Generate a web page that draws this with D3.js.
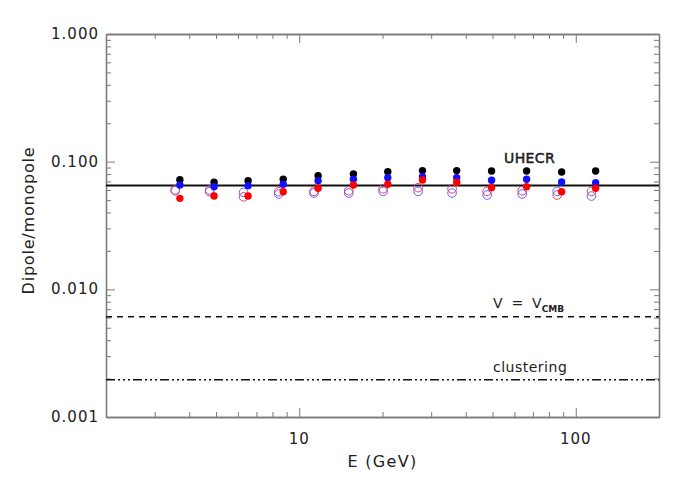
<!DOCTYPE html>
<html><head><meta charset="utf-8">
<script src="https://cdn.jsdelivr.net/npm/d3@7"></script>
<style>body{margin:0;background:#fff}text{font-family:"DejaVu Sans",sans-serif;fill:#222}</style>
</head><body><svg id="c" width="692" height="485"></svg>
<script>
// Data
const energyFilled = [3.70, 4.92, 6.53, 8.75, 11.7, 15.7, 20.9, 27.9, 37.1, 49.6, 66.4, 88.9, 118];
const energyOpen   = [3.56, 4.74, 6.29, 8.43, 11.3, 15.1, 20.1, 26.9, 35.7, 47.8, 64.0, 85.7, 114];
const blackFilled  = [0.0723, 0.0690, 0.0710, 0.0728, 0.0777, 0.0801, 0.0835, 0.0851, 0.0851, 0.0846, 0.0846, 0.0831, 0.0846];
const blueFilled   = [0.0657, 0.0637, 0.0649, 0.0665, 0.0710, 0.0728, 0.0749, 0.0763, 0.0749, 0.0715, 0.0728, 0.0694, 0.0685];
const redFilled    = [0.0516, 0.0538, 0.0538, 0.0582, 0.0619, 0.0657, 0.0665, 0.0719, 0.0690, 0.0626, 0.0637, 0.0582, 0.0619];
const redOpen      = [0.0592, 0.0582, 0.0530, 0.0582, 0.0585, 0.0592, 0.0613, 0.0626, 0.0613, 0.0585, 0.0592, 0.0548, 0.0585];
const blueOpen     = [0.0600, 0.0600, 0.0575, 0.0558, 0.0568, 0.0568, 0.0585, 0.0585, 0.0568, 0.0548, 0.0558, 0.0585, 0.0538];
const refLevels = [
  {name: "UHECR", value: 0.065, dash: null},
  {name: "V = V_CMB", value: 0.0061, dash: "6,5"},
  {name: "clustering", value: 0.00196, dash: "9,3,2,3,2,3,2,3"}
];
const yTicks = [0.001, 0.01, 0.1, 1];
const yTickLabels = ["0.001", "0.010", "0.100", "1.000"];
const xTicks = [10, 100];
const xTickLabels = ["10", "100"];

const svg = d3.select("#c");
const L = 106, R = 659, T = 34, B = 417;
const x = d3.scaleLog().domain([2, 200]).range([L, R]);
const y = d3.scaleLog().domain([0.001, 1]).range([B, T]);
const axisCol = "#7a7a7a";

// minor ticks
const xMinor = [], yMinor = [];
for (let d = 1; d <= 100; d *= 10) for (let k = 2; k <= 9; k++) { const v = k * d; if (v >= 2 && v <= 200 && !xTicks.includes(v)) xMinor.push(v); }
for (let d = 0.001; d < 1; d *= 10) for (let k = 2; k <= 9; k++) yMinor.push(k * d);

const g = svg.append("g");
function tickAxis(axisFn, scale, major, minor, transform) {
  const a = axisFn(scale).tickValues(major).tickSizeOuter(0).tickSizeInner(9).tickFormat("");
  const ga = g.append("g").attr("transform", transform).call(a);
  const am = axisFn(scale).tickValues(minor).tickSizeOuter(0).tickSizeInner(5).tickFormat("");
  const gm = g.append("g").attr("transform", transform).call(am);
  [ga, gm].forEach(s => { s.select(".domain").attr("stroke", axisCol).attr("stroke-width", 1.3); s.selectAll(".tick line").attr("stroke", axisCol); });
}
tickAxis(s => d3.axisTop(s), x, xTicks, xMinor, `translate(0,${B})`);
tickAxis(s => d3.axisBottom(s), x, xTicks, xMinor, `translate(0,${T})`);
tickAxis(s => d3.axisRight(s), y, yTicks, yMinor, `translate(${L},0)`);
tickAxis(s => d3.axisLeft(s), y, yTicks, yMinor, `translate(${R},0)`);

// tick labels
g.selectAll(".xl").data(xTicks).join("text").attr("x", d => x(d)).attr("y", B + 27)
  .attr("text-anchor", "middle").style("font-size", "15px").style("letter-spacing", "1px").text((d, i) => xTickLabels[i]);
g.selectAll(".yl").data(yTicks).join("text").attr("x", L - 7).attr("y", d => y(d) + 5)
  .attr("text-anchor", "end").style("font-size", "15px").style("letter-spacing", "1px").text((d, i) => yTickLabels[i]);

// axis titles
svg.append("text").attr("x", (L + R) / 2).attr("y", 467).attr("text-anchor", "middle").style("font-size", "16px").style("letter-spacing", "1.3px").text("E (GeV)");
svg.append("text").attr("transform", `translate(34,${(T + B) / 2 - 5}) rotate(-90)`).attr("text-anchor", "middle").style("font-size", "16px").style("letter-spacing", "0.8px").text("Dipole/monopole");

// reference lines
refLevels.forEach(r => {
  svg.append("line").attr("x1", x(2)).attr("x2", x(200)).attr("y1", y(r.value)).attr("y2", y(r.value))
    .attr("stroke", "#111").attr("stroke-width", r.dash ? 1.5 : 2).attr("stroke-dasharray", r.dash);
});
svg.append("text").attr("x", 504).attr("y", y(refLevels[0].value) - 23).style("font-size", "14px")
  .style("stroke", "#222").style("stroke-width", "0.5px").style("letter-spacing", "0.4px").text("UHECR");
const vt = svg.append("text").attr("x", 493).attr("y", y(refLevels[1].value) - 9).style("font-size", "14px").attr("xml:space", "preserve");
vt.append("tspan").text("V  =  V");
vt.append("tspan").attr("dy", 4).style("font-size", "9px").style("font-weight", "bold").text("CMB");
svg.append("text").attr("x", 493).attr("y", y(refLevels[2].value) - 8).style("font-size", "14px").style("letter-spacing", "0.5px").text("clustering");

// points
function openPts(vals, col) {
  svg.append("g").selectAll("circle").data(vals).join("circle")
    .attr("cx", (d, i) => x(energyOpen[i])).attr("cy", d => y(d)).attr("r", 4.3)
    .attr("fill", "none").attr("stroke", col).attr("stroke-width", 1);
}
function filledPts(vals, col) {
  svg.append("g").selectAll("circle").data(vals).join("circle")
    .attr("cx", (d, i) => x(energyFilled[i])).attr("cy", d => y(d)).attr("r", 3.7).attr("fill", col);
}
openPts(blueOpen, "#6a5cff");
openPts(redOpen, "#e0406a");
filledPts(blackFilled, "#000");
filledPts(blueFilled, "#1010ff");
filledPts(redFilled, "#ff0000");
</script></body></html>
